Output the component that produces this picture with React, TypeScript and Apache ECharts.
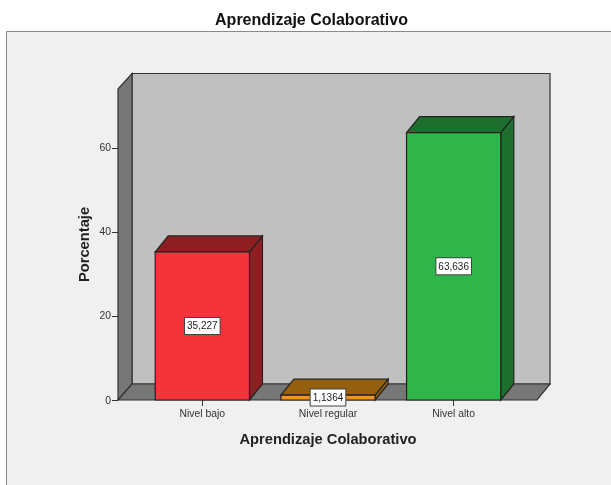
import React, { useEffect, useRef } from "react";
import * as echarts from "echarts";

const chartTitle = "Aprendizaje Colaborativo";
const xAxisTitle = "Aprendizaje Colaborativo";
const yAxisTitle = "Porcentaje";
const categories = ["Nivel bajo", "Nivel regular", "Nivel alto"];
const values = [35.227, 1.1364, 63.636];
const valueLabels = ["35,227", "1,1364", "63,636"];
const yTicks = [0, 20, 40, 60];
const frontColors = ["#f4333b", "#f7931e", "#2fb54a"];
const shadeColors = ["#8f1e23", "#94600f", "#1e6f2e"];

const FONT = "'Liberation Sans', Arial, sans-serif";
const DX = 13;
const DY = -16;
const EDGE = "#222222";

const renderBar = (params: any, api: any) => {
  const i = api.value(0);
  const [cx, top] = api.coord([i, api.value(1)]);
  const [, base] = api.coord([i, 0]);
  const w = api.size([1, 0])[0] * 0.75;
  const l = cx - w / 2;
  const r = cx + w / 2;
  const lineStyle = { stroke: EDGE, lineWidth: 1.2 };
  return {
    type: "group",
    children: [
      {
        type: "polygon",
        shape: { points: [[r, top], [r + DX, top + DY], [r + DX, base + DY], [r, base]] },
        style: { fill: shadeColors[i], ...lineStyle },
      },
      {
        type: "polygon",
        shape: { points: [[l, top], [l + DX, top + DY], [r + DX, top + DY], [r, top]] },
        style: { fill: shadeColors[i], ...lineStyle },
      },
      {
        type: "rect",
        shape: { x: l, y: top, width: w, height: base - top },
        style: { fill: frontColors[i], ...lineStyle },
      },
    ],
  };
};

const renderValueLabel = (params: any, api: any) => {
  const i = api.value(0);
  const [cx, top] = api.coord([i, api.value(1)]);
  const [, base] = api.coord([i, 0]);
  return {
    type: "text",
    x: cx,
    y: (top + base) / 2,
    style: {
      text: valueLabels[i],
      fill: "#222",
      font: `10px ${FONT}`,
      align: "center",
      verticalAlign: "middle",
      backgroundColor: "#ffffff",
      borderColor: "#444",
      borderWidth: 1,
      padding: [3, 2, 3, 2],
    },
  };
};

export default function App() {
  const ref = useRef<HTMLDivElement>(null);
  useEffect(() => {
    const chart = echarts.init(ref.current!, undefined, { renderer: "svg" });
    const barData = categories.map((_, i) => [i, values[i]]);
    const wallStroke = { stroke: "#333333", lineWidth: 1.2 };
    chart.setOption({
      animation: false,
      backgroundColor: "#ffffff",
      title: {
        text: chartTitle,
        left: 306.5,
        top: 6,
        textAlign: "center",
        textStyle: { fontFamily: FONT, fontSize: 16, fontWeight: "bold", color: "#111" },
      },
      graphic: {
        elements: [
          { type: "rect", z: -10, shape: { x: 6.5, y: 31.5, width: 620, height: 470 }, style: { fill: "#f0f0f0", stroke: "#8a8a8a", lineWidth: 1 } },
          { type: "rect", z: -9, shape: { x: 132, y: 73.5, width: 418, height: 310.5 }, style: { fill: "#c0c0c0", ...wallStroke } },
          { type: "polygon", z: -8, shape: { points: [[118, 89], [132, 73.5], [132, 384], [118, 400]] }, style: { fill: "#777777", ...wallStroke } },
          { type: "polygon", z: -8, shape: { points: [[118, 400], [132, 384], [550, 384], [537, 400]] }, style: { fill: "#777777", ...wallStroke } },
        ],
      },
      grid: { left: 139.5, width: 377, top: 89, height: 311 },
      xAxis: {
        type: "category",
        data: categories,
        name: xAxisTitle,
        nameLocation: "middle",
        nameGap: 31,
        nameTextStyle: { fontFamily: FONT, fontSize: 14.7, fontWeight: "bold", color: "#222" },
        axisLine: { show: false },
        axisTick: { show: true, alignWithLabel: true, length: 6, lineStyle: { color: "#333" } },
        axisLabel: { fontFamily: FONT, fontSize: 10.4, color: "#333", margin: 8 },
        splitLine: { show: false },
      },
      yAxis: {
        type: "value",
        min: 0,
        max: 74,
        offset: 21.5,
        name: yAxisTitle,
        nameLocation: "middle",
        nameGap: 27,
        nameMoveOverlap: false,
        nameTextStyle: { fontFamily: FONT, fontSize: 14.7, fontWeight: "bold", color: "#222" },
        axisLine: { show: false },
        axisTick: { show: true, length: 6, customValues: yTicks, lineStyle: { color: "#333" } },
        axisLabel: { fontFamily: FONT, fontSize: 10.4, color: "#333", margin: 7, customValues: yTicks },
        splitLine: { show: false },
      },
      series: [
        { type: "custom", renderItem: renderBar, data: barData, clip: false, encode: { x: 0, y: 1 }, z: 3 },
        { type: "custom", renderItem: renderValueLabel, data: barData, clip: false, encode: { x: 0, y: 1 }, z: 4 },
      ],
    });
    return () => chart.dispose();
  }, []);
  return <div ref={ref} style={{ position: "fixed", left: 0, top: 0, width: 611, height: 485, filter: "blur(0.4px)" }} />;
}
